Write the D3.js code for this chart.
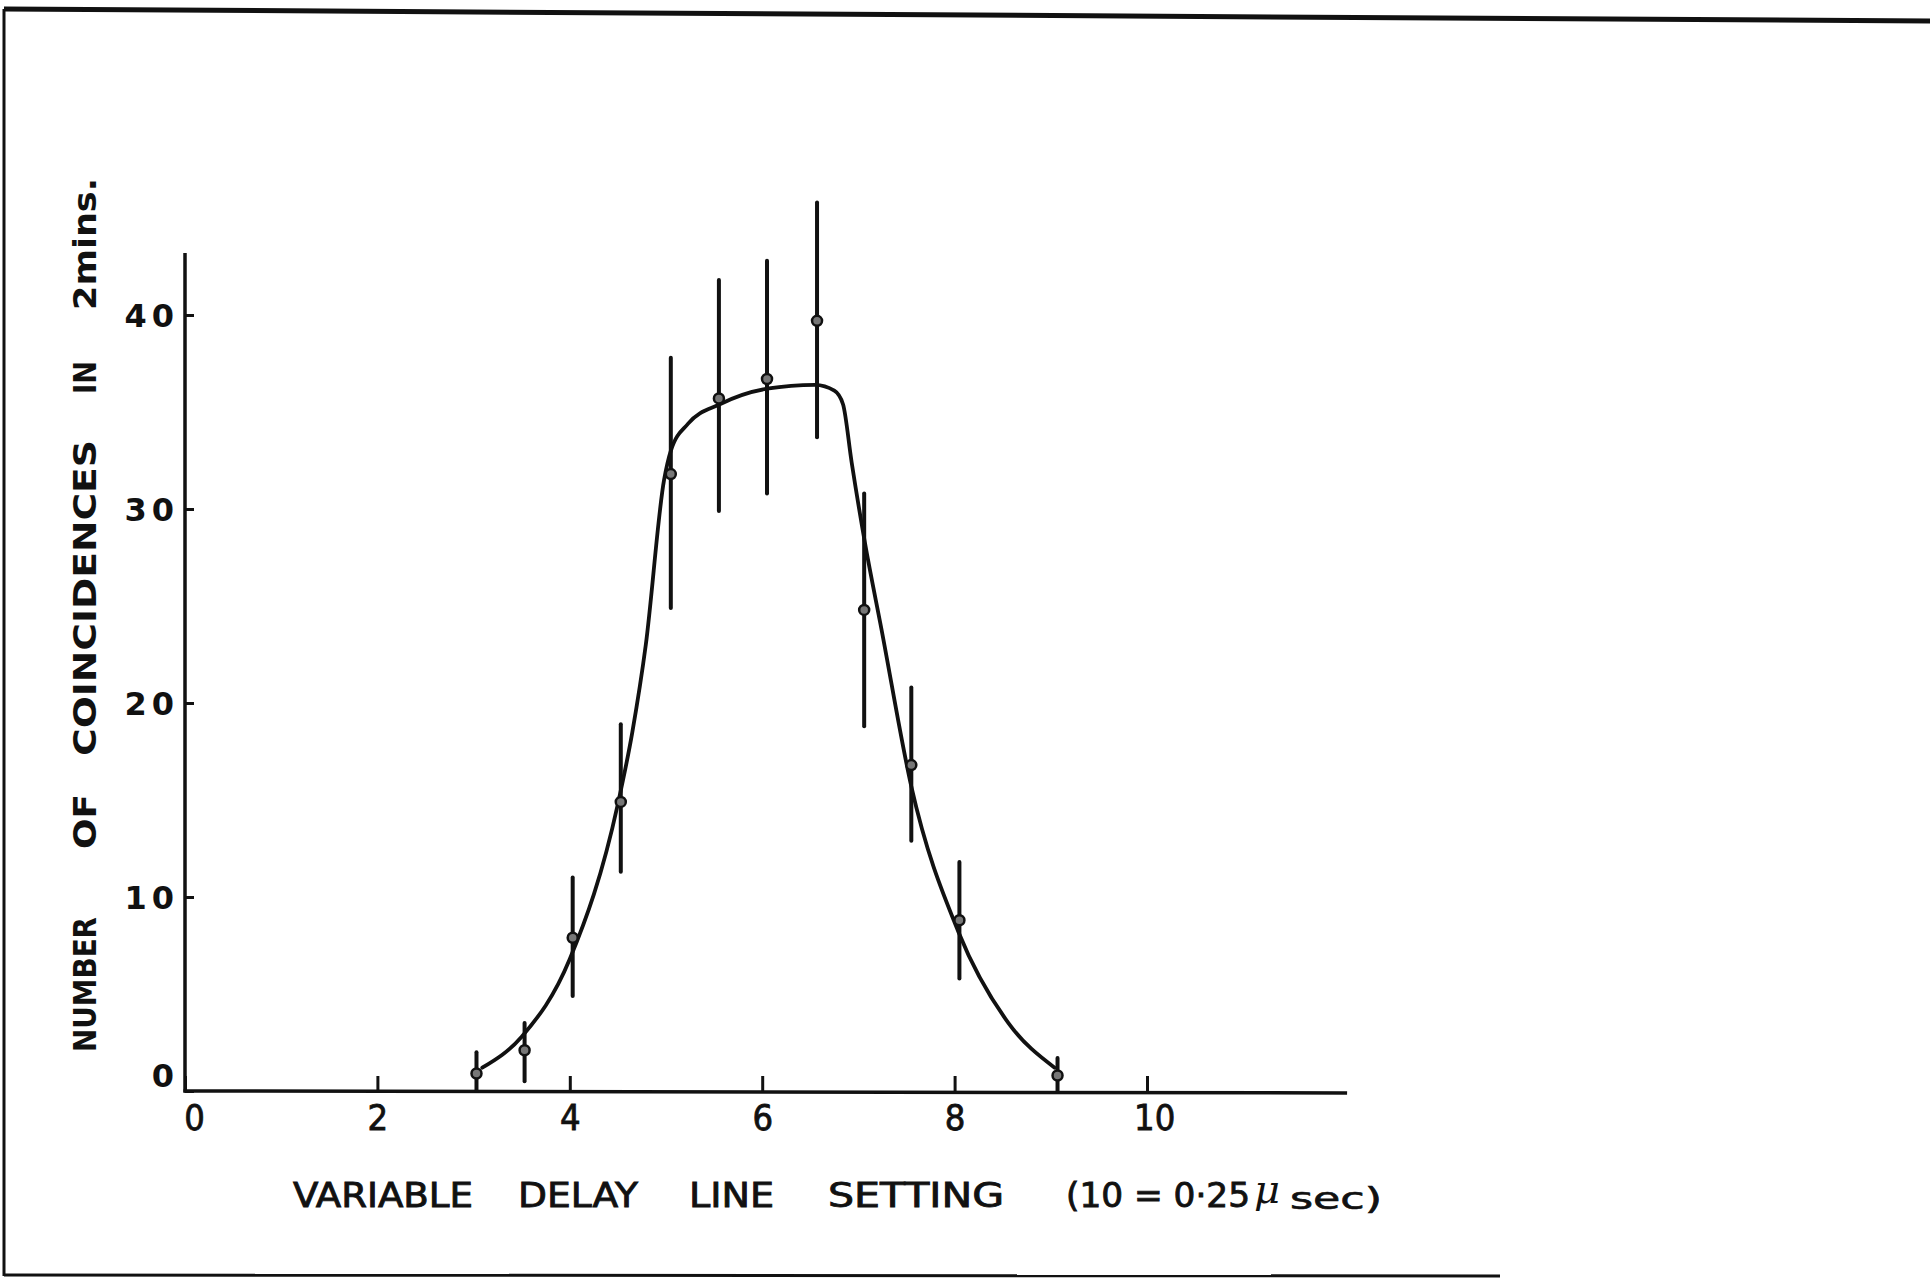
<!DOCTYPE html>
<html>
<head>
<meta charset="utf-8">
<script src="https://cdn.jsdelivr.net/npm/d3@7"></script>
<style>
  body { margin: 0; background: #fff; }
  svg { display: block; }
</style>
</head>
<body>
<div id="chart"></div>
<script>
// values
const settings = [3.03, 3.53, 4.03, 4.53, 5.05, 5.55, 6.05, 6.57, 7.06, 7.55, 8.05, 9.07];
const counts   = [0.9, 2.1, 7.9, 14.9, 31.8, 35.7, 36.7, 39.7, 24.8, 16.8, 8.8, 0.8];
const barLow   = [0, 0.5, 4.9, 11.3, 24.9, 29.9, 30.8, 33.7, 18.8, 12.9, 5.8, 0];
const barHigh  = [2.0, 3.5, 11.0, 18.9, 37.8, 41.8, 42.8, 45.8, 30.8, 20.8, 11.8, 1.7];

// hand drawn fitted curve
const curveX = [3.09, 3.5, 4.0, 4.5, 4.65, 4.79, 4.98, 5.05, 5.23, 5.56, 6.05, 6.55, 6.75, 6.84, 6.93, 7.07, 7.24, 7.55, 8.04, 8.56, 9.04];
const curveY = [1.2, 2.8, 6.8, 14.8, 18.5, 23.0, 31.5, 33.0, 34.4, 35.4, 36.2, 36.4, 36.1, 35.4, 32.4, 28.2, 23.8, 15.7, 8.2, 3.5, 1.2];

const xTicks = [0, 2, 4, 6, 8, 10];
const yTicks = [0, 10, 20, 30, 40];
const xMax = 12.08, yMax = 43.2;

const W = 1930, H = 1280;
const ink = "#111";

const svg = d3.select("#chart").append("svg")
    .attr("width", W)
    .attr("height", H);

const x = d3.scaleLinear().domain([0, 10]).range([185, 1147]);
const y = d3.scaleLinear().domain([0, 40]).range([1091, 315]);

// page frame of the scanned sheet
const frame = d3.line();
svg.append("path")
    .attr("d", frame([[4, 9], [1930, 21]]))
    .attr("stroke", ink).attr("stroke-width", 5).attr("fill", "none");
svg.append("path")
    .attr("d", frame([[4, 9], [4, 1276]]))
    .attr("stroke", ink).attr("stroke-width", 3).attr("fill", "none");
svg.append("path")
    .attr("d", frame([[4, 1275], [1500, 1276]]))
    .attr("stroke", ink).attr("stroke-width", 3).attr("fill", "none");

// axes
const yAxis = d3.axisLeft(y)
    .tickValues(yTicks)
    .tickSize(-9)
    .tickPadding(6)
    .tickFormat(d3.format("d"));

const gy = svg.append("g")
    .attr("transform", "translate(" + x(0) + ",0)")
    .call(yAxis);

gy.select(".domain").remove();
gy.selectAll(".tick line").attr("stroke", ink).attr("stroke-width", 3);
gy.selectAll(".tick text")
    .attr("fill", ink)
    .attr("font-family", "'DejaVu Sans', sans-serif")
    .attr("font-weight", "bold")
    .attr("font-size", 32)
    .attr("letter-spacing", 5)
    .attr("dy", (d) => d === 0 ? "-0.15em" : "0.36em");

const xAxis = d3.axisBottom(x)
    .tickValues(xTicks)
    .tickSize(-15)
    .tickPadding(13)
    .tickFormat(d3.format("d"));

const gx = svg.append("g")
    .attr("transform", "translate(0," + y(0) + ")")
    .call(xAxis);

gx.select(".domain").remove();
gx.selectAll(".tick line").attr("stroke", ink).attr("stroke-width", 3);
gx.selectAll(".tick text")
    .attr("fill", ink)
    .attr("font-family", "'DejaVu Sans Condensed', 'Liberation Sans Narrow', sans-serif")
    .attr("font-size", 36)
    .attr("stroke", ink)
    .attr("stroke-width", 0.8)
    .attr("dx", (d) => d === 0 ? "0.25em" : (d === 10 ? "0.2em" : 0));

// axis lines
svg.append("line")
    .attr("x1", x(0)).attr("x2", x(0))
    .attr("y1", y(0) + 1.5).attr("y2", y(yMax))
    .attr("stroke", ink).attr("stroke-width", 3.5);
svg.append("line")
    .attr("x1", x(0) - 1.5).attr("x2", x(xMax))
    .attr("y1", y(0)).attr("y2", y(0) + 2)
    .attr("stroke", ink).attr("stroke-width", 3.5);

// fitted curve
const curvePts = curveX.map((v, i) => [v, curveY[i]]);
const line = d3.line()
    .x((d) => x(d[0]))
    .y((d) => y(d[1]))
    .curve(d3.curveMonotoneX);

svg.append("path")
    .datum(curvePts)
    .attr("d", line)
    .attr("fill", "none")
    .attr("stroke", ink)
    .attr("stroke-width", 3.8)
    .attr("stroke-linecap", "round");

// error bars and points
const pts = settings.map((s, i) => ({ s: s, c: counts[i], lo: barLow[i], hi: barHigh[i] }));

svg.append("g").selectAll("line")
    .data(pts)
  .enter().append("line")
    .attr("x1", (d) => x(d.s)).attr("x2", (d) => x(d.s))
    .attr("y1", (d) => y(d.lo)).attr("y2", (d) => y(d.hi))
    .attr("stroke", ink)
    .attr("stroke-width", 4)
    .attr("stroke-linecap", "round");

svg.append("g").selectAll("circle")
    .data(pts)
  .enter().append("circle")
    .attr("cx", (d) => x(d.s))
    .attr("cy", (d) => y(d.c))
    .attr("r", 5)
    .attr("fill", "#777")
    .attr("stroke", ink)
    .attr("stroke-width", 2.5);

// axis titles
const narrow = "'DejaVu Sans Condensed', 'Liberation Sans Narrow', sans-serif";
const xTitle = [
  { t: "VARIABLE", x: 293, w: 180 },
  { t: "DELAY", x: 518, w: 120 },
  { t: "LINE", x: 689, w: 85 },
  { t: "SETTING", x: 828, w: 176 },
  { t: "(10 = 0·25", x: 1066, w: 184 }
];
svg.append("g").selectAll("text")
    .data(xTitle)
  .enter().append("text")
    .attr("x", (d) => d.x)
    .attr("y", 1207)
    .attr("textLength", (d) => d.w)
    .attr("lengthAdjust", "spacingAndGlyphs")
    .attr("font-family", narrow)
    .attr("font-size", 33)
    .attr("stroke", ink)
    .attr("stroke-width", 0.8)
    .attr("fill", ink)
    .text((d) => d.t);

svg.append("text")
    .attr("x", 1254).attr("y", 1203)
    .attr("font-family", "'DejaVu Serif', serif")
    .attr("font-style", "italic")
    .attr("font-size", 40)
    .attr("fill", ink)
    .text("μ");
svg.append("text")
    .attr("x", 1290).attr("y", 1209)
    .attr("textLength", 92)
    .attr("lengthAdjust", "spacingAndGlyphs")
    .attr("font-family", narrow)
    .attr("font-size", 30)
    .attr("stroke", ink)
    .attr("stroke-width", 0.6)
    .attr("fill", ink)
    .text("sec)");

const yTitle = [
  { t: "NUMBER", y: 1052, w: 135 },
  { t: "OF", y: 849, w: 55 },
  { t: "COINCIDENCES", y: 756, w: 316 },
  { t: "IN", y: 394, w: 33 },
  { t: "2mins.", y: 310, w: 132 }
];
svg.append("g").selectAll("text")
    .data(yTitle)
  .enter().append("text")
    .attr("transform", (d) => "translate(96," + d.y + ") rotate(-90)")
    .attr("textLength", (d) => d.w)
    .attr("lengthAdjust", "spacingAndGlyphs")
    .attr("font-family", "'DejaVu Sans', sans-serif")
    .attr("font-weight", "bold")
    .attr("font-size", 32)
    .attr("fill", ink)
    .text((d) => d.t);
</script>
</body>
</html>
